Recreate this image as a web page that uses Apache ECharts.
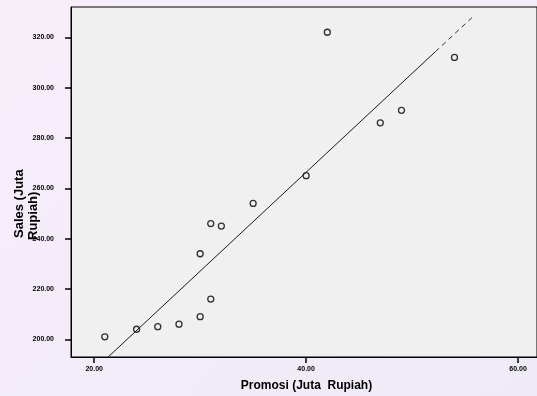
<!DOCTYPE html>
<html>
<head>
<meta charset="utf-8">
<script src="https://cdn.jsdelivr.net/npm/echarts@6/dist/echarts.min.js"></script>
<style>
html,body{margin:0;padding:0;}
body{background:linear-gradient(135deg,#f7eefa 0%,#f2ecf8 60%,#eeebf6 100%);}
#c{width:537px;height:396px;}
</style>
</head>
<body>
<div id="c"></div>
<script>
// Observed data: Promosi (x) vs Sales (y), in Juta Rupiah
var promosi = [21, 24, 26, 28, 30, 31, 30, 31, 32, 35, 40, 42, 47, 49, 54];
var sales   = [201, 204, 205, 206, 209, 216, 234, 246, 245, 254, 265, 322, 286, 291, 312];
// Fitted regression line, drawn solid then dashed at the upper end
var fitSolidX = [21.3, 52.2];
var fitSolidY = [192.9, 314.3];
var fitDashX  = [52.2, 55.7];
var fitDashY  = [314.3, 328.0];
// Tick values
var xTicks = [20, 40, 60];
var yTicks = [200, 220, 240, 260, 280, 300, 320];

function pairs(a, b) { return a.map(function (v, i) { return [v, b[i]]; }); }

var chart = echarts.init(document.getElementById('c'), null, {renderer: 'canvas'});
var tickFont = {fontFamily: 'Arial, "Liberation Sans", sans-serif', fontSize: 7, fontWeight: 'bold', color: '#000'};
chart.setOption({
  animation: false,
  backgroundColor: 'transparent',
  grid: {
    left: 71, top: 7, right: -2, bottom: 39,
    show: true, backgroundColor: '#f0f0f0', borderColor: '#000', borderWidth: 1
  },
  xAxis: {
    type: 'value', min: 17.81, max: 61.79,
    splitLine: {show: false},
    axisLine: {show: true, onZero: false, lineStyle: {color: '#000', width: 1}},
    axisTick: {show: true, length: 6, lineStyle: {color: '#000', width: 1.5}, customValues: xTicks},
    axisLabel: Object.assign({margin: 9, customValues: xTicks, formatter: function (v) { return v.toFixed(2); }}, tickFont)
  },
  yAxis: {
    type: 'value', min: 192.97, max: 332.04,
    splitLine: {show: false},
    axisLine: {show: true, onZero: false, lineStyle: {color: '#000', width: 1}},
    axisTick: {show: true, length: 6, lineStyle: {color: '#000', width: 1.5}, customValues: yTicks},
    axisLabel: Object.assign({margin: 17, customValues: yTicks, formatter: function (v) { return v.toFixed(2); }}, tickFont)
  },
  series: [
    {
      type: 'line', data: pairs(fitSolidX, fitSolidY), symbol: 'none',
      lineStyle: {color: '#1a1a1a', width: 1}, silent: true
    },
    {
      type: 'line', data: pairs(fitDashX, fitDashY), symbol: 'none',
      lineStyle: {color: '#333', width: 1, type: [5, 4]}, silent: true
    },
    {
      type: 'scatter', data: pairs(promosi, sales), symbol: 'circle', symbolSize: 6,
      itemStyle: {color: '#f0f0f0', borderColor: '#000', borderWidth: 1.3}
    }
  ],
  graphic: [
    {
      type: 'text', x: 306.5, y: 386,
      style: {text: 'Promosi (Juta  Rupiah)', fontFamily: 'Arial, "Liberation Sans", sans-serif', fontWeight: 'bold', fontSize: 12, fill: '#000', align: 'center', verticalAlign: 'middle'}
    },
    {
      type: 'text', x: 19.5, y: 238, rotation: Math.PI / 2,
      style: {text: 'Sales (Juta', fontFamily: 'Arial, "Liberation Sans", sans-serif', fontWeight: 'bold', fontSize: 13, fill: '#000', align: 'left', verticalAlign: 'middle'}
    },
    {
      type: 'text', x: 33.5, y: 240, rotation: Math.PI / 2,
      style: {text: 'Rupiah)', fontFamily: 'Arial, "Liberation Sans", sans-serif', fontWeight: 'bold', fontSize: 13, fill: '#000', align: 'left', verticalAlign: 'middle'}
    }
  ]
});
</script>
</body>
</html>
